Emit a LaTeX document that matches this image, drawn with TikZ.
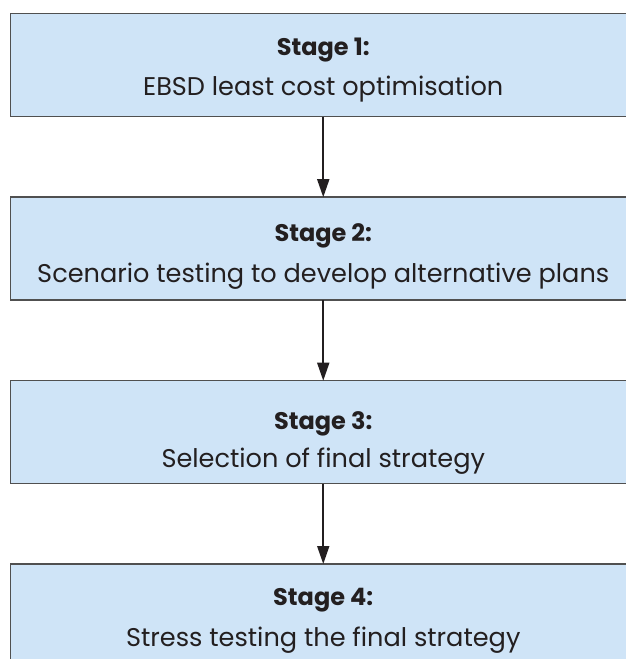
\documentclass[tikz,border=0pt]{standalone}
\usepackage{fontspec}
\setmainfont{Poppins}
\usetikzlibrary{arrows.meta}
\definecolor{boxfill}{HTML}{CFE4F7}
\definecolor{boxline}{HTML}{505050}
\definecolor{ink}{HTML}{231F20}
\tikzset{
  stagebox/.style={draw=boxline, fill=boxfill, line width=1.5pt, inner sep=0pt, outer sep=0pt,
    minimum width=625.5pt, minimum height=103pt, rectangle},
  headtext/.style={anchor=base, inner sep=0pt, text=ink, font=\fontsize{24}{28}\selectfont\bfseries},
  bodytext/.style={anchor=base, inner sep=0pt, text=ink, font=\fontsize{25.6}{30}\selectfont},
  flow/.style={draw=ink, line width=1.8pt, -{Triangle[length=18pt,width=12pt]}}
}
\begin{document}
\begin{tikzpicture}[x=1pt,y=1pt]
\useasboundingbox (0,0) rectangle (626,-659);
\node[stagebox] (b1) at (323.25,-65.2) {};
\node[stagebox] (b2) at (323.25,-248.7) {};
\node[stagebox] (b3) at (323.25,-432.2) {};
\node[stagebox] (b4) at (323.25,-615.5) {};
\node[headtext] (h1) at (323.25,-55.7) {Stage 1:};
\node[bodytext] (t1) at (323.25,-95.7) {EBSD least cost optimisation};
\node[headtext] (h2) at (323.25,-241.7) {Stage 2:};
\node[bodytext] (t2) at (323.25,-282.7) {Scenario testing to develop alternative plans};
\node[headtext] (h3) at (323.25,-429) {Stage 3:};
\node[bodytext] (t3) at (323.25,-467.7) {Selection of final strategy};
\node[headtext] (h4) at (323.25,-605.7) {Stage 4:};
\node[bodytext] (t4) at (323.25,-646.7) {Stress testing the final strategy};
\draw[flow] (b1.south) -- (b2.north);
\draw[flow] (b2.south) -- (b3.north);
\draw[flow] (b3.south) -- (b4.north);
\end{tikzpicture}
\end{document}
